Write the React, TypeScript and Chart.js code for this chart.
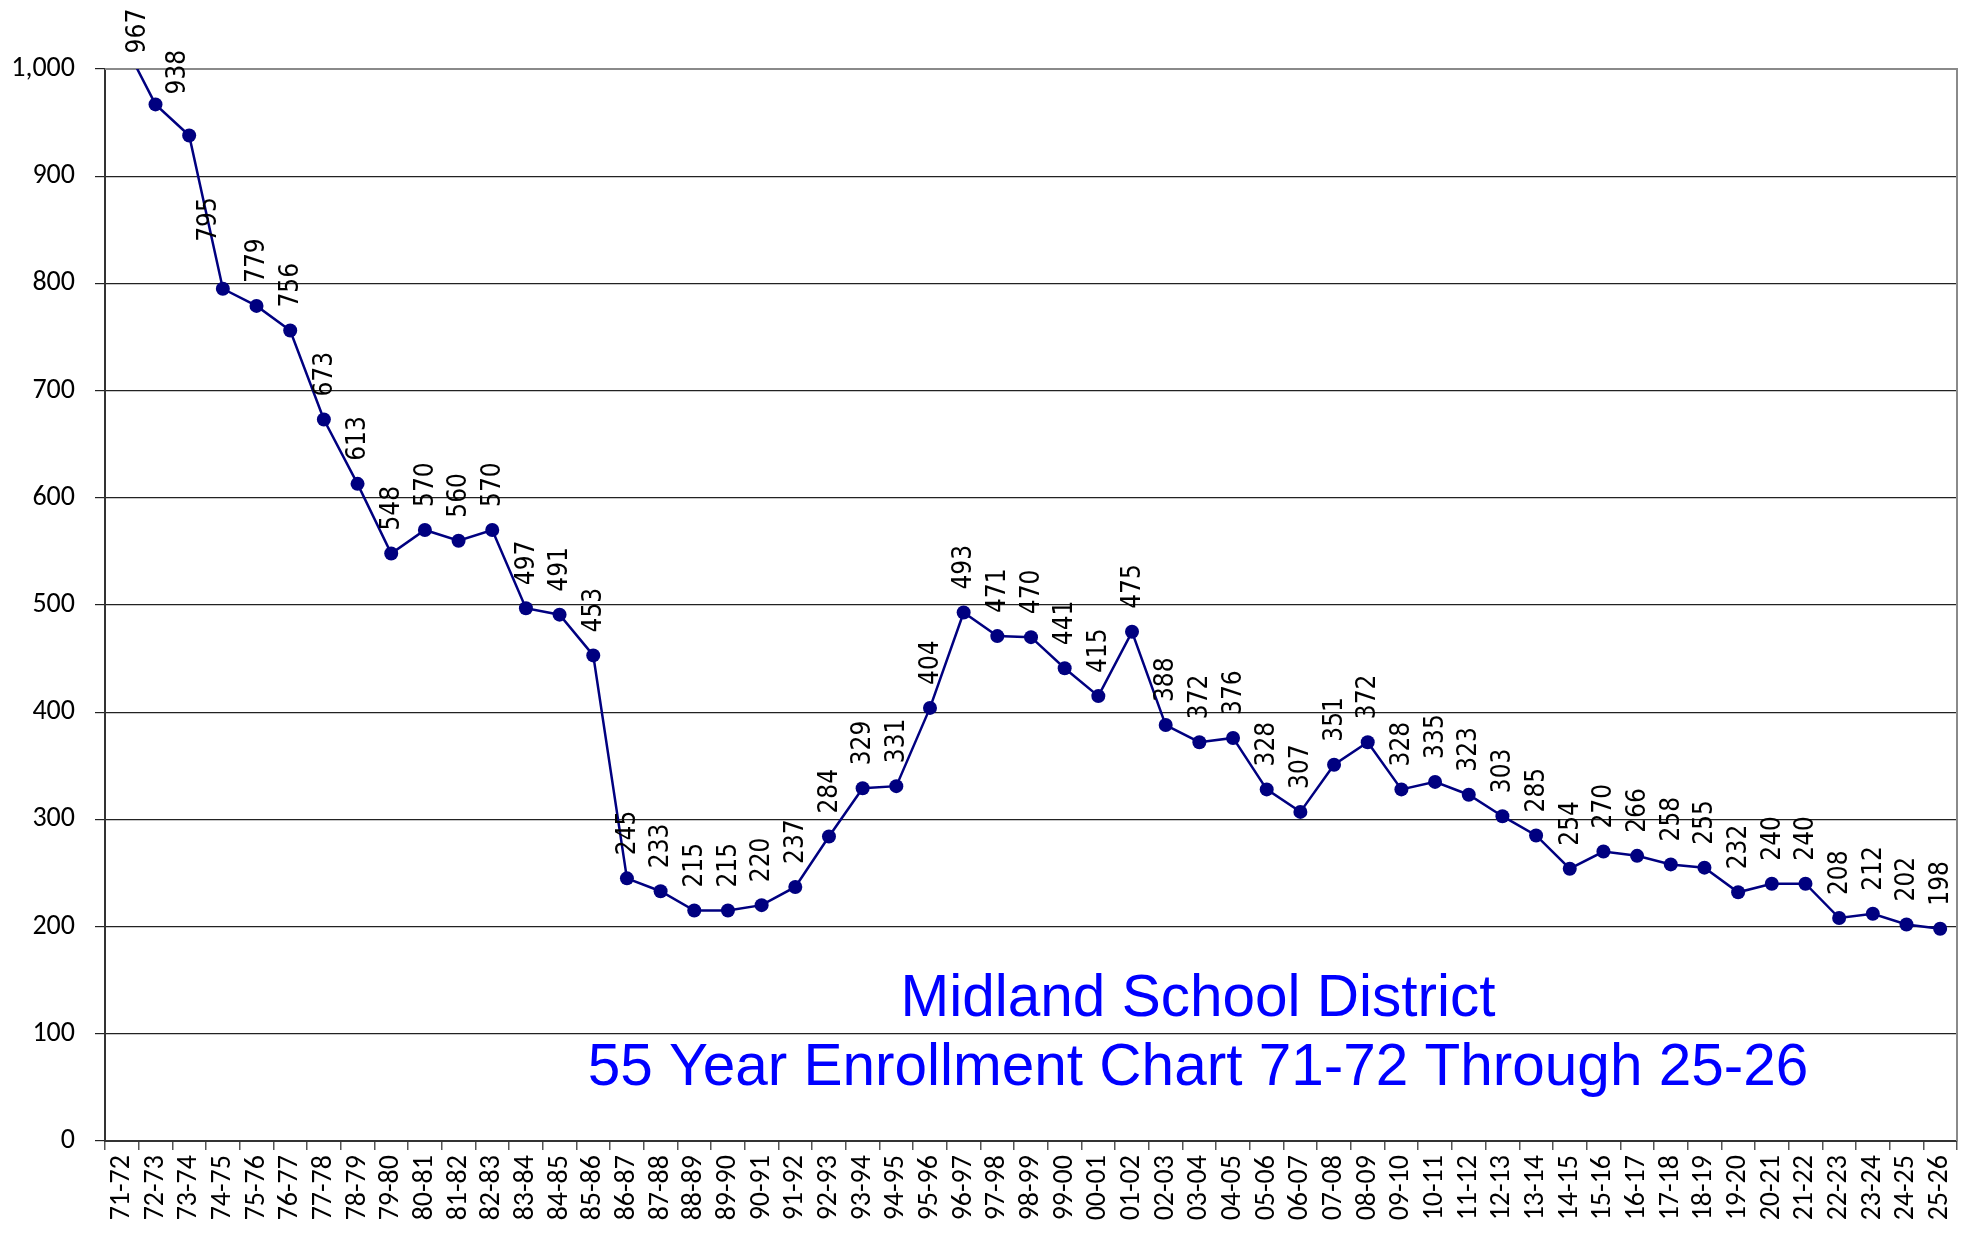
import React, { useEffect, useRef } from "react";
import { Chart, registerables } from "chart.js";

Chart.register(...registerables);

const categories = [
  "71-72", "72-73", "73-74", "74-75", "75-76", "76-77", "77-78", "78-79", "79-80",
  "80-81", "81-82", "82-83", "83-84", "84-85", "85-86", "86-87", "87-88", "88-89",
  "89-90", "90-91", "91-92", "92-93", "93-94", "94-95", "95-96", "96-97", "97-98",
  "98-99", "99-00", "00-01", "01-02", "02-03", "03-04", "04-05", "05-06", "06-07",
  "07-08", "08-09", "09-10", "10-11", "11-12", "12-13", "13-14", "14-15", "15-16",
  "16-17", "17-18", "18-19", "19-20", "20-21", "21-22", "22-23", "23-24", "24-25",
  "25-26",
];

const enrollment = [
  1028, 967, 938, 795, 779, 756, 673, 613, 548,
  570, 560, 570, 497, 491, 453, 245, 233, 215,
  215, 220, 237, 284, 329, 331, 404, 493, 471,
  470, 441, 415, 475, 388, 372, 376, 328, 307,
  351, 372, 328, 335, 323, 303, 285, 254, 270,
  266, 258, 255, 232, 240, 240, 208, 212, 202,
  198,
];

const titleLines = [
  "Midland School District",
  "55 Year Enrollment Chart 71-72 Through 25-26",
];

const yMin = 0;
const yMax = 1000;
const yStep = 100;

// manual label nudges (dx, extra lift) for labels moved off the line
const labelNudges: Record<number, [number, number]> = {
  1: [-18, 28],
  2: [-12, 18],
  3: [-15, 24],
};

const LINE_COLOR = "#000080";

const plotBorderPlugin = {
  id: "plotBorder",
  beforeDatasetsDraw(chart: any) {
    const { ctx, chartArea } = chart;
    ctx.save();
    ctx.strokeStyle = "#8a8a8a";
    ctx.lineWidth = 2;
    ctx.beginPath();
    ctx.moveTo(chartArea.left, chartArea.top);
    ctx.lineTo(chartArea.right, chartArea.top);
    ctx.lineTo(chartArea.right, chartArea.bottom);
    ctx.stroke();
    ctx.restore();
  },
};

const valueLabelPlugin = {
  id: "valueLabels",
  afterDatasetsDraw(chart: any) {
    const { ctx } = chart;
    const meta = chart.getDatasetMeta(0);
    const data = chart.data.datasets[0].data as number[];
    ctx.save();
    ctx.fillStyle = "#000";
    ctx.font = '26px "DejaVu Sans Condensed", "DejaVu Sans", sans-serif';
    ctx.textAlign = "left";
    ctx.textBaseline = "middle";
    meta.data.forEach((pt: any, i: number) => {
      const v = data[i];
      if (v > yMax) return;
      const nudge = labelNudges[i] || [0, 0];
      ctx.save();
      ctx.translate(pt.x + nudge[0], pt.y - 23 - nudge[1]);
      ctx.rotate(-Math.PI / 2);
      ctx.fillText(String(v), 0, 1);
      ctx.restore();
    });
    ctx.restore();
  },
};

const titlePlugin = {
  id: "insideTitle",
  afterDraw(chart: any) {
    const { ctx } = chart;
    ctx.save();
    ctx.fillStyle = "#0000FF";
    ctx.font = '58.5px "Liberation Sans", Arial, sans-serif';
    ctx.textAlign = "center";
    ctx.textBaseline = "alphabetic";
    ctx.fillText(titleLines[0], 1198, 1016);
    ctx.fillText(titleLines[1], 1198, 1085);
    ctx.restore();
  },
};

export default function App() {
  const canvasRef = useRef<HTMLCanvasElement | null>(null);

  useEffect(() => {
    document.body.style.margin = "0";
    document.body.style.overflow = "hidden";
    const canvas = canvasRef.current;
    if (!canvas) return;
    const chart = new Chart(canvas, {
      type: "line",
      data: {
        labels: categories,
        datasets: [
          {
            data: enrollment,
            borderColor: LINE_COLOR,
            backgroundColor: LINE_COLOR,
            borderWidth: 2.5,
            pointRadius: 7,
            pointBackgroundColor: LINE_COLOR,
            pointBorderColor: LINE_COLOR,
            pointBorderWidth: 0,
            tension: 0,
            clip: 0,
          },
        ],
      },
      options: {
        animation: false,
        responsive: true,
        maintainAspectRatio: false,
        devicePixelRatio: 1,
        layout: { padding: { top: 69, right: 13, left: 0, bottom: 0 } },
        plugins: {
          legend: { display: false },
          title: { display: false },
          tooltip: { enabled: false },
        },
        scales: {
          x: {
            type: "category",
            offset: true,
            grid: {
              offset: true,
              drawOnChartArea: false,
              drawTicks: true,
              tickLength: 9,
              color: "#555",
              lineWidth: 1.5,
            },
            border: { display: true, color: "#333", width: 2 },
            ticks: {
              autoSkip: false,
              minRotation: 90,
              maxRotation: 90,
              padding: 5,
              color: "#000",
              font: { family: "Carlito, Lato, sans-serif", size: 28 },
            },
            afterFit: (s: any) => {
              s.height = 95;
              s.paddingLeft = 0;
              s.paddingRight = 0;
            },
          },
          y: {
            min: yMin,
            max: yMax,
            ticks: {
              stepSize: yStep,
              padding: 20,
              color: "#000",
              font: { family: "Carlito, Lato, sans-serif", size: 28 },
            },
            grid: {
              color: "#222",
              lineWidth: 1.2,
              tickLength: 10,
            },
            border: { display: true, color: "#333", width: 2 },
            afterFit: (s: any) => {
              s.width = 105;
              s.paddingTop = 0;
              s.paddingBottom = 0;
            },
          },
        },
      },
      plugins: [plotBorderPlugin, valueLabelPlugin, titlePlugin],
    });
    return () => chart.destroy();
  }, []);

  return (
    <div style={{ width: 1970, height: 1236, position: "relative", background: "#fff" }}>
      <canvas ref={canvasRef} />
    </div>
  );
}
